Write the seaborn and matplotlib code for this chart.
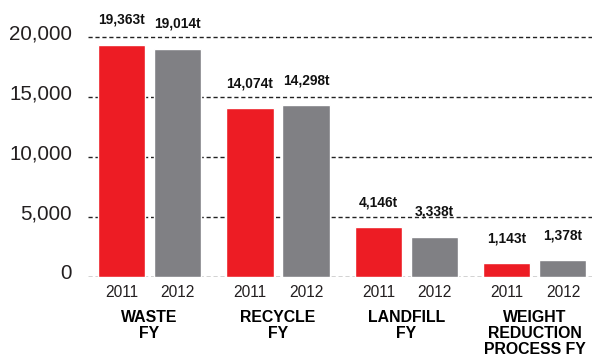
import matplotlib
matplotlib.use("Agg")
import matplotlib.pyplot as plt
from matplotlib import font_manager
import matplotlib.transforms as mtransforms
import seaborn as sns
import pandas as pd

# Waste totals by stream, fiscal years 2011 and 2012 (tonnes)
categories = ["WASTE\nFY", "RECYCLE\nFY", "LANDFILL\nFY", "WEIGHT\nREDUCTION\nPROCESS FY"]
years = ["2011", "2012"]
values_2011 = [19363, 14074, 4146, 1143]
values_2012 = [19014, 14298, 3338, 1378]
y_ticks = [0, 5000, 10000, 15000, 20000]

df = pd.DataFrame({
    "category": categories * 2,
    "year": [years[0]] * 4 + [years[1]] * 4,
    "tonnes": values_2011 + values_2012,
})

sns.set_theme(style="white")
names = {f.name for f in font_manager.fontManager.ttflist}
narrow = "Liberation Sans Narrow" if "Liberation Sans Narrow" in names else "Liberation Sans"
plt.rcParams["font.family"] = [narrow, "DejaVu Sans"]

RED = "#ED1C24"
GREY = "#808084"

fig = plt.figure(figsize=(5.92, 3.64), dpi=100)
ax = fig.add_axes([88 / 592, 1 - 277 / 364, 1 - 88 / 592, (277 - 10) / 364])

sns.barplot(data=df, x="category", y="tonnes", hue="year", order=categories,
            hue_order=years, palette=[RED, GREY], width=0.872, gap=0.16,
            saturation=1, legend=False, ax=ax, zorder=3)

ax.set_ylim(0, 20000 * (277 - 10) / 240)
ax.set_xlim(-0.479, 3.444)

# dashed guide lines at each y tick
for v in y_ticks:
    ax.axhline(v, color="#222222", lw=1.0, ls=(0, (3, 2)), zorder=1)

ax.set_yticks(y_ticks)
ax.set_yticklabels([f"{v:,}" for v in y_ticks], fontsize=14.8, color="#231F20")
ax.tick_params(axis="y", length=0, pad=11.5)
# y labels sit on their guide line rather than centred on it
shift = mtransforms.ScaledTranslation(0, -2 / 100, fig.dpi_scale_trans)
for lab in ax.get_yticklabels():
    lab.set_verticalalignment("baseline")
    lab.set_transform(lab.get_transform() + shift)

# year labels under each bar, category labels under each group
bars = [p for p in ax.patches if p.get_height() > 0]
bars = sorted(bars, key=lambda p: p.get_x())
centers = [p.get_x() + p.get_width() / 2 for p in bars]
ax.set_xticks(centers, minor=True)
ax.set_xticklabels([years[i % 2] for i in range(len(centers))], minor=True,
                   fontsize=11.2, color="#231F20")
ax.set_xticks(range(len(categories)))
ax.set_xticklabels(categories, fontsize=11.4, fontweight="bold", color="black",
                   linespacing=1.05, va="top")
ax.tick_params(axis="x", which="major", length=0, pad=24)
ax.tick_params(axis="x", which="minor", length=0, pad=6)

# value labels above bars
for p in bars:
    h = p.get_height()
    ax.annotate(f"{h:,.0f}t", (p.get_x() + p.get_width() / 2, h),
                xytext=(0, 13), textcoords="offset points", ha="center",
                va="bottom", fontsize=9.9, fontweight="bold", color="#111111")

ax.set_xlabel("")
ax.set_ylabel("")
sns.despine(ax=ax, left=True, bottom=True)

fig.savefig("out.png", dpi=100)
